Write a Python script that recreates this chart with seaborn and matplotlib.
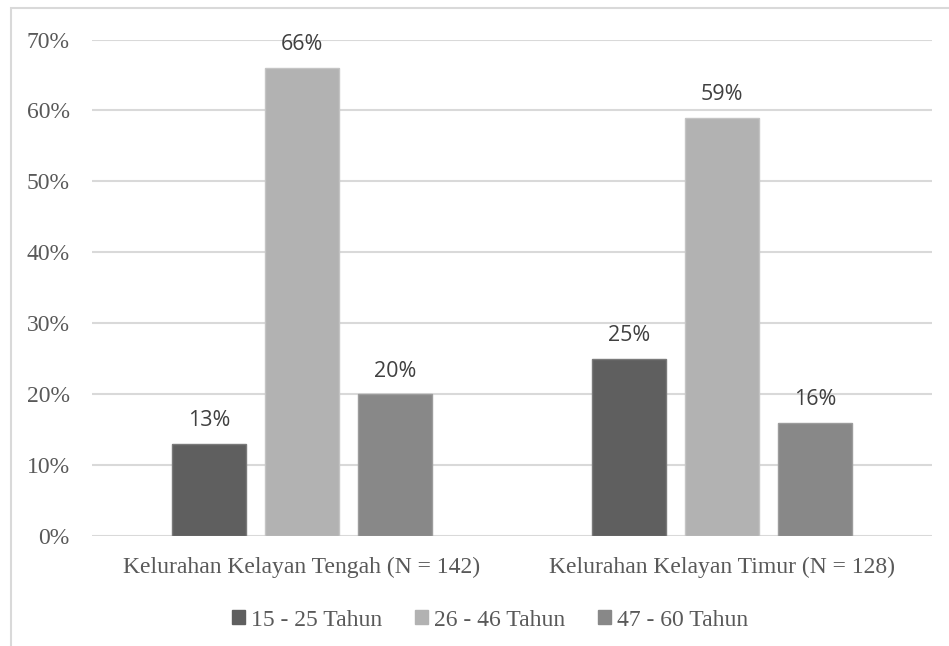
import matplotlib
matplotlib.use("Agg")
import matplotlib.pyplot as plt
import seaborn as sns
import pandas as pd
from matplotlib.patches import Rectangle
from matplotlib.ticker import FuncFormatter

categories = ["Kelurahan Kelayan Tengah (N = 142)", "Kelurahan Kelayan Timur (N = 128)"]
groups = ["15 - 25 Tahun", "26 - 46 Tahun", "47 - 60 Tahun"]
tengah = [13, 66, 20]
timur = [25, 59, 16]
colors = ["#5f5f5f", "#b2b2b2", "#888888"]
edges = ["#7a7a7a", "#c4c4c4", "#9c9c9c"]

rows = []
for g, a, b in zip(groups, tengah, timur):
    rows.append({"cat": categories[0], "grp": g, "val": a})
    rows.append({"cat": categories[1], "grp": g, "val": b})
df = pd.DataFrame(rows)

sns.set_theme(style="white")
plt.rcParams["font.family"] = ["Liberation Serif", "DejaVu Serif"]

W, H = 949, 646
fig = plt.figure(figsize=(W / 100, H / 100), dpi=100)
ax = fig.add_axes([92 / W, 1 - 536 / H, (932 - 92) / W, (536 - 39.5) / H])

sns.barplot(data=df, x="cat", y="val", hue="grp", order=categories, hue_order=groups,
            palette=colors, width=0.664, gap=0.2, ax=ax, legend=False, linewidth=1)

for i, cont in enumerate(ax.containers):
    for bar in cont:
        bar.set_edgecolor(edges[i])
        bar.set_linewidth(1.0)
    ax.bar_label(cont, labels=[f"{int(v)}%" for v in cont.datavalues], padding=9,
                 fontsize=15.5, color="#404040", family=["Open Sans", "DejaVu Sans"])

ax.set_ylim(0, 70)
ax.set_xlim(-0.5, 1.5)
ax.set_yticks(range(0, 71, 10))
ax.yaxis.set_major_formatter(FuncFormatter(lambda v, p: f"{int(v)}%"))
ax.grid(axis="y", color="#d9d9d9", linewidth=1.5)
ax.set_axisbelow(True)
for s in ax.spines.values():
    s.set_visible(False)
ax.tick_params(axis="y", length=0, pad=16, labelsize=17, labelcolor="#595959")
ax.tick_params(axis="x", length=0, pad=15, labelsize=17, labelcolor="#595959")
ax.set_xlabel("")
ax.set_ylabel("")

handles = [Rectangle((0, 0), 1, 1, facecolor=c, edgecolor=c) for c in colors]
leg = fig.legend(handles, groups, loc="center", bbox_to_anchor=(490 / W, 1 - 620 / H),
                 ncol=3, frameon=False, fontsize=17, handlelength=0.55, handleheight=0.55,
                 handletextpad=0.25, columnspacing=1.4, labelcolor="#595959")

fig.patches.append(Rectangle((11 / W, -0.1), 1.2, (1 - 8 / H) + 0.1, transform=fig.transFigure,
                             fill=False, edgecolor="#d9d9d9", linewidth=1.5))

fig.savefig("out.png", dpi=100)
